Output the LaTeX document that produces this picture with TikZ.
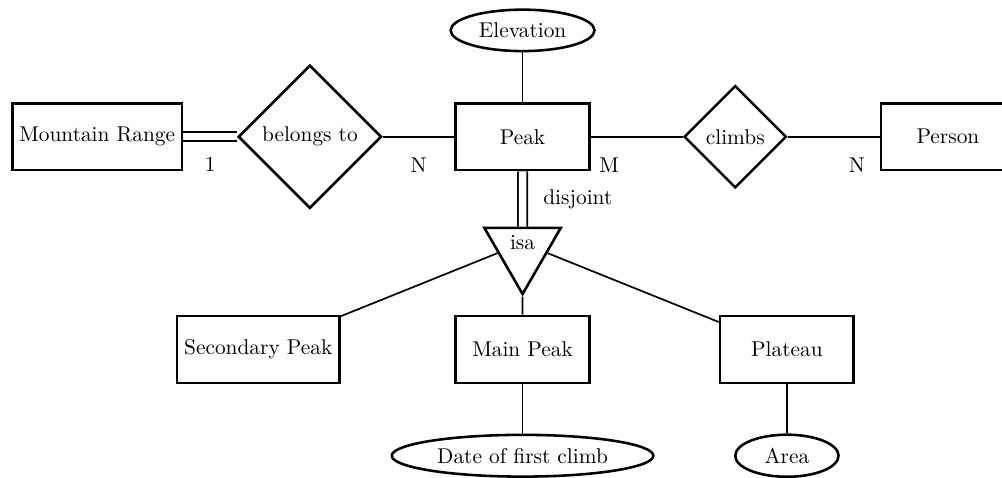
\documentclass[tikz,border=0pt]{standalone}
\usetikzlibrary{shapes.geometric,positioning}
\begin{document}
\begin{tikzpicture}[
entity/.style = {draw, very thick, rectangle, minimum width = 2.2cm, minimum height = 1.1cm},
relation/.style = {draw, very thick, diamond},
attribute/.style = {draw, very thick, ellipse, minimum width = 1.7cm},
isarel/.style = {draw, very thick, isosceles triangle, isosceles triangle apex angle = 60, shape border rotate = 270, inner sep = 3.8pt},
link/.style = {thick},
total/.style = {thick, double, double distance = 3.5pt}
]
\useasboundingbox (-8.6,-5.6) rectangle (7.89,2.25);
% entities and relations on the top row
\node [entity] (peak) at (0,0) {Peak};
\node [attribute] (elev) at (0,1.75) {Elevation};
\node [relation] (belongs) at (-3.5,0) {belongs to};
\node [entity] (range) at (-7,0) {Mountain Range};
\node [relation] (climbs) at (3.5,0) {climbs};
\node [entity] (person) at (7,0) {Person};
% specialisation
\node [isarel] (isa) at (0,-1.75) {isa};
\node [entity] (second) at (-4.35,-3.5) {Secondary Peak};
\node [entity] (main) at (0,-3.5) {Main Peak};
\node [entity] (plateau) at (4.35,-3.5) {Plateau};
\node [attribute] (date) at (0,-5.25) {Date of first climb};
\node [attribute] (area) at (4.35,-5.25) {Area};

\draw [link] (elev) -- (peak);
\draw [total] (range) -- node [below = 6pt] {1} (belongs);
\draw [link] (belongs) -- node [below = 6pt] {N} (peak);
\draw [link] (peak) -- node [pos = 0.2, below = 6pt] {M} (climbs);
\draw [link] (climbs) -- node [pos = 0.75, below = 6pt] {N} (person);
\draw [total] (peak) -- node [right = 6pt] {disjoint} (isa);
\draw [link] (isa) -- (second);
\draw [link] (isa) -- (main);
\draw [link] (isa) -- (plateau);
\draw [link] (main) -- (date);
\draw [link] (plateau) -- (area);
%\draw [help lines] (-8,-5) grid (7,2);
\end{tikzpicture}
\end{document}
